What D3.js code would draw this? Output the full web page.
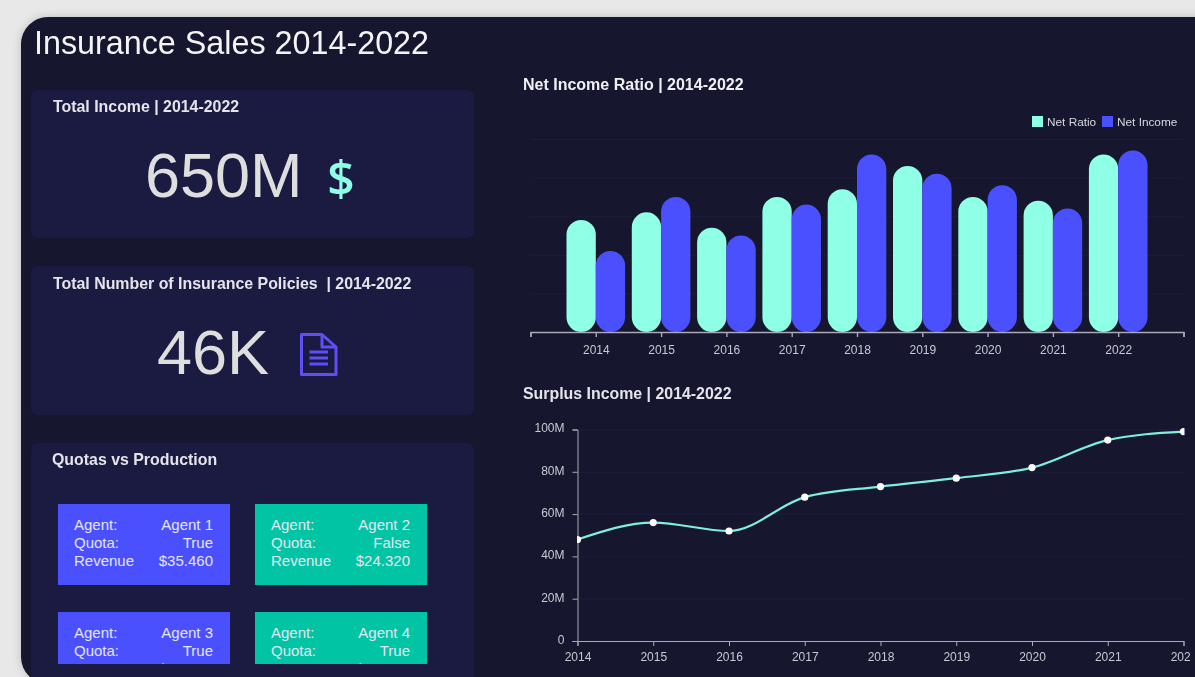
<!DOCTYPE html>
<html>
<head>
<meta charset="utf-8">
<title>Insurance Sales 2014-2022</title>
<script src="https://cdn.jsdelivr.net/npm/d3@7"></script>
<style>
  html, body { margin: 0; padding: 0; background: #e8e8e8; overflow: hidden; }
  svg { display: block; font-family: "Liberation Sans", Arial, sans-serif; filter: blur(0.35px); }
  .grid line { stroke: #1c1c3c; stroke-width: 1; }
  .axis path, .axis line { stroke: #a9a9b8; }
  .axis text { fill: #c9c9d2; font-size: 12px; font-family: "Liberation Sans", Arial, sans-serif; }
</style>
</head>
<body>
<script>
// values
const years = [2014, 2015, 2016, 2017, 2018, 2019, 2020, 2021, 2022];
const netRatio = [58, 62, 54, 70, 74, 86, 70, 68, 92];
const netIncome = [42, 70, 50, 66, 92, 82, 76, 64, 94];
const surplus = [48, 56, 52, 68, 73, 77, 82, 95, 99];
const legendLabels = ["Net Ratio", "Net Income"];

const agents = ["Agent 1", "Agent 2", "Agent 3", "Agent 4"];
const quotas = ["True", "False", "True", "True"];
const revenues = ["$35.460", "$24.320", "$36.500", "$33.500"];

const w = 1195;
const h = 677;
const teal = "#8fffe6";
const blue = "#4b50ff";
const cardFill = "#1b1b42";

const svg = d3.select("body").append("svg")
  .attr("width", w)
  .attr("height", h);

const defs = svg.append("defs");
const shadow = defs.append("filter").attr("id", "shadow")
  .attr("x", "-5%").attr("y", "-5%").attr("width", "110%").attr("height", "110%");
shadow.append("feDropShadow").attr("dx", 0).attr("dy", 0)
  .attr("stdDeviation", 5).attr("flood-color", "#000").attr("flood-opacity", 0.18);

// main panel, runs off the right and just past the bottom of the window
svg.append("rect")
  .attr("x", 21).attr("y", 17)
  .attr("width", 1300).attr("height", 667)
  .attr("rx", 27)
  .attr("fill", "#12122f")
  .attr("filter", "url(#shadow)");

svg.append("text")
  .attr("x", 34).attr("y", 54)
  .attr("fill", "#f4f4f6")
  .style("font-size", "32.3px")
  .text("Insurance Sales 2014-2022");

// left cards
const cards = [
  { x: 31, y: 90, w: 443, h: 148, title: "Total Income | 2014-2022", tx: 53, ty: 112 },
  { x: 31, y: 266, w: 443, h: 149, title: "Total Number of Insurance Policies  | 2014-2022", tx: 53, ty: 289 },
  { x: 31, y: 443, w: 443, h: 260, title: "Quotas vs Production", tx: 52, ty: 465 }
];

svg.selectAll("rect.card")
  .data(cards)
  .enter()
  .append("rect")
  .attr("class", "card")
  .attr("x", d => d.x).attr("y", d => d.y)
  .attr("width", d => d.w).attr("height", d => d.h)
  .attr("rx", 7)
  .attr("fill", cardFill);

svg.selectAll("text.cardTitle")
  .data(cards)
  .enter()
  .append("text")
  .attr("class", "cardTitle")
  .attr("x", d => d.tx).attr("y", d => d.ty)
  .attr("fill", "#e4e4ea")
  .style("font-size", "15.9px")
  .style("font-weight", "bold")
  .style("white-space", "pre")
  .text(d => d.title);

// big numbers
svg.append("text")
  .attr("x", 145).attr("y", 197)
  .attr("fill", "#dedede")
  .style("font-size", "63px")
  .text("650M");

svg.append("text")
  .attr("x", 341).attr("y", 196)
  .attr("text-anchor", "middle")
  .attr("fill", teal)
  .style("font-family", "'Open Sans', sans-serif")
  .style("font-weight", "600")
  .style("font-size", "48px")
  .text("$");

svg.append("text")
  .attr("x", 157).attr("y", 374)
  .attr("fill", "#dedede")
  .style("font-size", "63px")
  .text("46K");

// document icon
const doc = svg.append("g")
  .attr("transform", "translate(300,333)")
  .attr("fill", "none")
  .attr("stroke", "#5f4df5")
  .attr("stroke-width", 3)
  .attr("stroke-linejoin", "round");
doc.append("path").attr("d", "M1.5 1.5 H22 L36 14 V41.5 H1.5 Z");
doc.append("path").attr("d", "M22 1.5 V14 H36");
doc.append("path").attr("d", "M9.5 19 H28 M9.5 25 H28 M9.5 31 H28");

// agent boxes
const boxX = d3.scaleOrdinal().domain([0, 1]).range([58, 255]);
const boxY = d3.scaleOrdinal().domain([0, 1]).range([504, 612]);
const boxFill = d3.scaleOrdinal().domain([0, 1]).range(["#4b50ff", "#00c4a3"]);
const boxH = [81, 52];

defs.selectAll("clipPath.box")
  .data(agents)
  .enter()
  .append("clipPath")
  .attr("class", "box")
  .attr("id", (d, i) => "box" + i)
  .append("rect")
  .attr("x", (d, i) => boxX(i % 2))
  .attr("y", (d, i) => boxY(Math.floor(i / 2)))
  .attr("width", 172)
  .attr("height", (d, i) => boxH[Math.floor(i / 2)]);

const box = svg.selectAll("g.box")
  .data(agents)
  .enter()
  .append("g")
  .attr("class", "box")
  .attr("clip-path", (d, i) => "url(#box" + i + ")");

box.append("rect")
  .attr("x", (d, i) => boxX(i % 2))
  .attr("y", (d, i) => boxY(Math.floor(i / 2)))
  .attr("width", 172)
  .attr("height", 81)
  .attr("fill", (d, i) => boxFill(i % 2));

const rowNames = ["Agent:", "Quota:", "Revenue"];
rowNames.forEach((name, r) => {
  box.append("text")
    .attr("x", (d, i) => boxX(i % 2) + 16)
    .attr("y", (d, i) => boxY(Math.floor(i / 2)) + 26 + r * 18)
    .attr("fill", "#e6e6f4")
    .style("font-size", "15px")
    .text(name);
  box.append("text")
    .attr("x", (d, i) => boxX(i % 2) + 155)
    .attr("y", (d, i) => boxY(Math.floor(i / 2)) + 26 + r * 18)
    .attr("text-anchor", "end")
    .attr("fill", "#e6e6f4")
    .style("font-size", "15px")
    .text((d, i) => [agents[i], quotas[i], revenues[i]][r]);
});

// bar chart
svg.append("text")
  .attr("x", 523).attr("y", 90)
  .attr("fill", "#f0f0f4")
  .style("font-size", "16px")
  .style("font-weight", "bold")
  .text("Net Income Ratio | 2014-2022");

const barX = d3.scaleLinear().domain([2013, 2023]).range([530.5, 1183.5]);
const barY = d3.scaleLinear().domain([0, 100]).range([332, 139]);
const barW = 29.3;

svg.append("g")
  .attr("class", "grid")
  .attr("transform", "translate(530.5,0)")
  .call(d3.axisLeft(barY).tickValues([20, 40, 60, 80, 100]).tickSize(-653).tickFormat(""))
  .call(g => g.select(".domain").remove());

const barSeries = [
  { values: netRatio, color: teal, offset: -barW },
  { values: netIncome, color: blue, offset: 0 }
];

barSeries.forEach(s => {
  svg.selectAll(null)
    .data(years)
    .enter()
    .append("rect")
    .attr("x", (d, i) => barX(d) + s.offset)
    .attr("y", (d, i) => barY(s.values[i]))
    .attr("width", barW)
    .attr("height", (d, i) => barY(0) - barY(s.values[i]))
    .attr("rx", barW / 2)
    .attr("fill", s.color);
});

svg.append("g")
  .attr("class", "axis")
  .attr("transform", "translate(0,332)")
  .call(d3.axisBottom(barX)
    .tickValues(d3.range(2013, 2024))
    .tickSize(5)
    .tickPadding(8)
    .tickFormat(d => years.includes(d) ? String(d) : ""))
  .call(g => g.selectAll("path,line").attr("stroke-width", 1.4));

// legend
const legendX = [1032, 1102];
const legendColors = [teal, blue];
svg.selectAll("rect.legend")
  .data(legendLabels)
  .enter()
  .append("rect")
  .attr("class", "legend")
  .attr("x", (d, i) => legendX[i]).attr("y", 116)
  .attr("width", 11).attr("height", 11)
  .attr("fill", (d, i) => legendColors[i]);
svg.selectAll("text.legend")
  .data(legendLabels)
  .enter()
  .append("text")
  .attr("class", "legend")
  .attr("x", (d, i) => legendX[i] + 15).attr("y", 126)
  .attr("fill", "#d8d8e2")
  .style("font-size", "11.8px")
  .text(d => d);

// line chart
svg.append("text")
  .attr("x", 523).attr("y", 399)
  .attr("fill", "#e4e4ea")
  .style("font-size", "15.9px")
  .style("font-weight", "bold")
  .text("Surplus Income | 2014-2022");

const lineX = d3.scaleLinear().domain([2014, 2022]).range([577.5, 1183.5]);
const lineY = d3.scaleLinear().domain([0, 100]).range([641, 429.5]);

svg.append("g")
  .attr("class", "grid")
  .attr("transform", "translate(577.5,0)")
  .call(d3.axisLeft(lineY).tickValues([20, 40, 60, 80, 100]).tickSize(-606).tickFormat(""))
  .call(g => g.select(".domain").remove());

svg.append("g")
  .attr("class", "axis")
  .attr("transform", "translate(577.5,0)")
  .call(d3.axisLeft(lineY)
    .tickValues([0, 20, 40, 60, 80, 100])
    .tickSize(5)
    .tickPadding(8)
    .tickFormat(d => d === 0 ? "0" : d + "M"))
  .call(g => g.selectAll("text").attr("dy", "0.2em"));

// the last label is cut in the reference too ("202")
defs.append("clipPath").attr("id", "lineClip")
  .append("rect").attr("x", 0).attr("y", -20).attr("width", 1190.5).attr("height", 60);

svg.append("g")
  .attr("class", "axis")
  .attr("clip-path", "url(#lineClip)")
  .attr("transform", "translate(0,641)")
  .call(d3.axisBottom(lineX)
    .tickValues(years)
    .tickSize(5)
    .tickPadding(6)
    .tickFormat(d3.format("d")));

// points on the first and last year are cut by the plot edge
defs.append("clipPath").attr("id", "plotClip")
  .append("rect").attr("x", 577).attr("y", 420).attr("width", 607.5).attr("height", 225);

const plot = svg.append("g").attr("clip-path", "url(#plotClip)");

const line = d3.line()
  .x((d, i) => lineX(years[i]))
  .y(d => lineY(d))
  .curve(d3.curveMonotoneX);

plot.append("path")
  .datum(surplus)
  .attr("d", line)
  .attr("fill", "none")
  .attr("stroke", "#7fefdc")
  .attr("stroke-width", 2.2);

plot.selectAll("circle.pt")
  .data(surplus)
  .enter()
  .append("circle")
  .attr("class", "pt")
  .attr("cx", (d, i) => lineX(years[i]))
  .attr("cy", d => lineY(d))
  .attr("r", 3.6)
  .attr("fill", "#ffffff");
</script>
</body>
</html>
